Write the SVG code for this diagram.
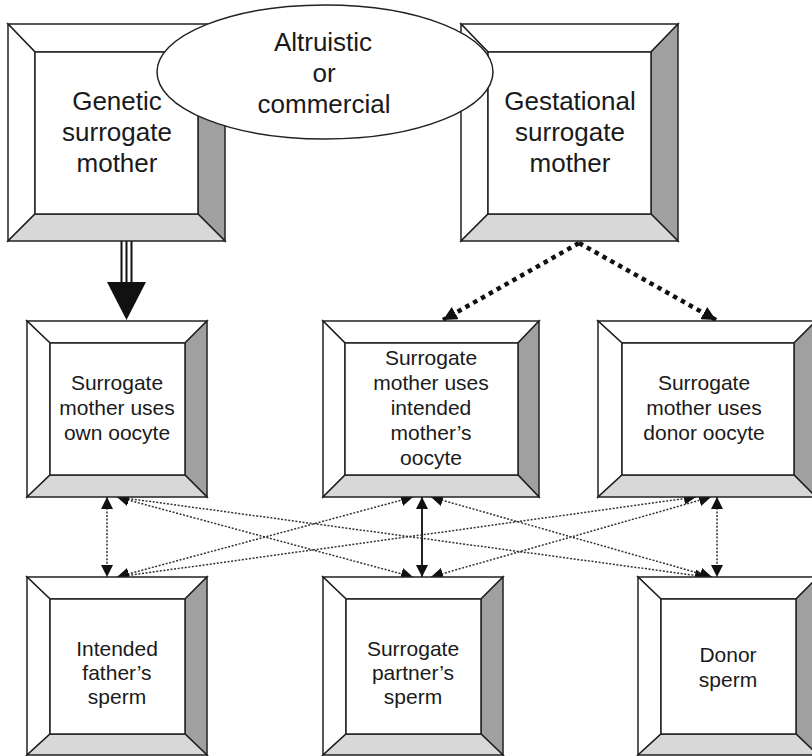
<svg xmlns="http://www.w3.org/2000/svg" width="812" height="756" viewBox="0 0 812 756">
  <style>
    .edge { stroke: #222; stroke-width: 1.5; stroke-linejoin: miter; }
    .lite { fill: #ffffff; }
    .dark { fill: #a0a0a0; }
    .mid { fill: #d8d8d8; }
    .face { fill: #ffffff; stroke: #222; stroke-width: 1.5; }
    text { font-family: "Liberation Sans", Arial, sans-serif; fill: #1a1a1a; text-anchor: middle; }
    .big { font-size: 26px; }
    .small { font-size: 21px; }
    .thin { fill: none; stroke: #333; stroke-width: 1.5; stroke-dasharray: 2 1.6; }
    .solid { fill: none; stroke: #222; stroke-width: 2; }
    .heavy { fill: none; stroke: #111; stroke-width: 4.5; stroke-dasharray: 4.5 4.5; }
  </style>
  <defs>
    <marker id="tip" viewBox="0 0 12 12" refX="12" refY="6" markerWidth="12" markerHeight="12" markerUnits="userSpaceOnUse" orient="auto-start-reverse">
      <path d="M0,0 L12,6 L0,12 Z" fill="#111"/>
    </marker>
    <marker id="tipBig" viewBox="0 0 14 14" refX="14" refY="7" markerWidth="14" markerHeight="14" markerUnits="userSpaceOnUse" orient="auto">
      <path d="M0,0 L14,7 L0,14 Z" fill="#111"/>
    </marker>
  </defs>

  <rect width="812" height="756" fill="#ffffff"/>

  <!-- connectors -->
  <g id="connectors">
    <!-- genetic mother to own oocyte: triple-line arrow -->
    <g id="genetic-arrow">
      <line x1="121.5" y1="241" x2="121.5" y2="283" stroke="#111" stroke-width="2"/>
      <line x1="126.5" y1="241" x2="126.5" y2="283" stroke="#111" stroke-width="2"/>
      <line x1="131.5" y1="241" x2="131.5" y2="283" stroke="#111" stroke-width="2"/>
      <polygon points="107,282 146,282 126.5,320" fill="#111"/>
    </g>
    <!-- gestational mother to oocyte options -->
    <line class="heavy" x1="579" y1="243" x2="443" y2="320" marker-end="url(#tipBig)"/>
    <line class="heavy" x1="579" y1="243" x2="716" y2="320" marker-end="url(#tipBig)"/>
    <!-- oocyte / sperm combinations -->
    <line class="thin" x1="107" y1="497" x2="107" y2="577" marker-start="url(#tip)" marker-end="url(#tip)"/>
    <line class="solid" x1="422" y1="497" x2="422" y2="577" marker-start="url(#tip)" marker-end="url(#tip)"/>
    <line class="thin" x1="717" y1="497" x2="717" y2="577" marker-start="url(#tip)" marker-end="url(#tip)"/>
    <line class="thin" x1="117" y1="497" x2="413" y2="577" marker-start="url(#tip)" marker-end="url(#tip)"/>
    <line class="thin" x1="117" y1="497" x2="707" y2="577" marker-start="url(#tip)" marker-end="url(#tip)"/>
    <line class="thin" x1="117" y1="577" x2="413" y2="497" marker-start="url(#tip)" marker-end="url(#tip)"/>
    <line class="thin" x1="117" y1="577" x2="696" y2="497" marker-start="url(#tip)" marker-end="url(#tip)"/>
    <line class="thin" x1="431" y1="497" x2="712" y2="577" marker-start="url(#tip)" marker-end="url(#tip)"/>
    <line class="thin" x1="431" y1="577" x2="711" y2="497" marker-start="url(#tip)" marker-end="url(#tip)"/>
  </g>

  <!-- top row -->
  <g id="genetic">
    <polygon class="lite edge" points="8,24 225,24 198,52 35,52"/>
    <polygon class="lite edge" points="8,24 35,52 35,214 8,241"/>
    <polygon class="dark edge" points="225,24 225,241 198,214 198,52"/>
    <polygon class="mid edge" points="8,241 35,214 198,214 225,241"/>
    <rect class="face" x="35" y="52" width="163" height="162"/>
    <text class="big" x="117" y="110">Genetic</text>
    <text class="big" x="117" y="141">surrogate</text>
    <text class="big" x="117" y="172">mother</text>
  </g>

  <g id="gestational">
    <polygon class="lite edge" points="461,24 678,24 651,52 488,52"/>
    <polygon class="lite edge" points="461,24 488,52 488,214 461,241"/>
    <polygon class="dark edge" points="678,24 678,241 651,214 651,52"/>
    <polygon class="mid edge" points="461,241 488,214 651,214 678,241"/>
    <rect class="face" x="488" y="52" width="163" height="162"/>
    <text class="big" x="570" y="110">Gestational</text>
    <text class="big" x="570" y="141">surrogate</text>
    <text class="big" x="570" y="172">mother</text>
  </g>

  <g id="arrangement">
    <ellipse cx="325" cy="72" rx="168" ry="67" fill="#ffffff" stroke="#222" stroke-width="1.5"/>
    <text class="big" x="323" y="51">Altruistic</text>
    <text class="big" x="324" y="82">or</text>
    <text class="big" x="324" y="113">commercial</text>
  </g>

  <!-- middle row -->
  <g id="own-oocyte">
    <polygon class="lite edge" points="27,321 207,321 185,343 50,343"/>
    <polygon class="lite edge" points="27,321 50,343 50,475 27,497"/>
    <polygon class="dark edge" points="207,321 207,497 185,475 185,343"/>
    <polygon class="mid edge" points="27,497 50,475 185,475 207,497"/>
    <rect class="face" x="50" y="343" width="135" height="132"/>
    <text class="small" x="117" y="390">Surrogate</text>
    <text class="small" x="117" y="415">mother uses</text>
    <text class="small" x="117" y="440">own oocyte</text>
  </g>

  <g id="intended-oocyte">
    <polygon class="lite edge" points="323,321 539,321 518,343 345,343"/>
    <polygon class="lite edge" points="323,321 345,343 345,475 323,497"/>
    <polygon class="dark edge" points="539,321 539,497 518,475 518,343"/>
    <polygon class="mid edge" points="323,497 345,475 518,475 539,497"/>
    <rect class="face" x="345" y="343" width="173" height="132"/>
    <text class="small" x="431" y="365">Surrogate</text>
    <text class="small" x="431" y="390">mother uses</text>
    <text class="small" x="431" y="415">intended</text>
    <text class="small" x="431" y="440">mother’s</text>
    <text class="small" x="431" y="465">oocyte</text>
  </g>

  <g id="donor-oocyte">
    <polygon class="lite edge" points="598,321 816,321 794,343 622,343"/>
    <polygon class="lite edge" points="598,321 622,343 622,475 598,497"/>
    <polygon class="dark edge" points="816,321 816,497 794,475 794,343"/>
    <polygon class="mid edge" points="598,497 622,475 794,475 816,497"/>
    <rect class="face" x="622" y="343" width="172" height="132"/>
    <text class="small" x="704" y="390">Surrogate</text>
    <text class="small" x="704" y="415">mother uses</text>
    <text class="small" x="704" y="440">donor oocyte</text>
  </g>

  <!-- bottom row -->
  <g id="father-sperm">
    <polygon class="lite edge" points="27,577 207,577 185,599 50,599"/>
    <polygon class="lite edge" points="27,577 50,599 50,734 27,755"/>
    <polygon class="dark edge" points="207,577 207,755 185,734 185,599"/>
    <polygon class="mid edge" points="27,755 50,734 185,734 207,755"/>
    <rect class="face" x="50" y="599" width="135" height="135"/>
    <text class="small" x="117" y="656">Intended</text>
    <text class="small" x="117" y="680">father’s</text>
    <text class="small" x="117" y="704">sperm</text>
  </g>

  <g id="partner-sperm">
    <polygon class="lite edge" points="323,577 503,577 481,599 346,599"/>
    <polygon class="lite edge" points="323,577 346,599 346,734 323,755"/>
    <polygon class="dark edge" points="503,577 503,755 481,734 481,599"/>
    <polygon class="mid edge" points="323,755 346,734 481,734 503,755"/>
    <rect class="face" x="346" y="599" width="135" height="135"/>
    <text class="small" x="413" y="656">Surrogate</text>
    <text class="small" x="413" y="680">partner’s</text>
    <text class="small" x="413" y="704">sperm</text>
  </g>

  <g id="donor-sperm">
    <polygon class="lite edge" points="638,577 818,577 796,599 661,599"/>
    <polygon class="lite edge" points="638,577 661,599 661,734 638,755"/>
    <polygon class="dark edge" points="818,577 818,755 796,734 796,599"/>
    <polygon class="mid edge" points="638,755 661,734 796,734 818,755"/>
    <rect class="face" x="661" y="599" width="135" height="135"/>
    <text class="small" x="728" y="662">Donor</text>
    <text class="small" x="728" y="687">sperm</text>
  </g>
</svg>
